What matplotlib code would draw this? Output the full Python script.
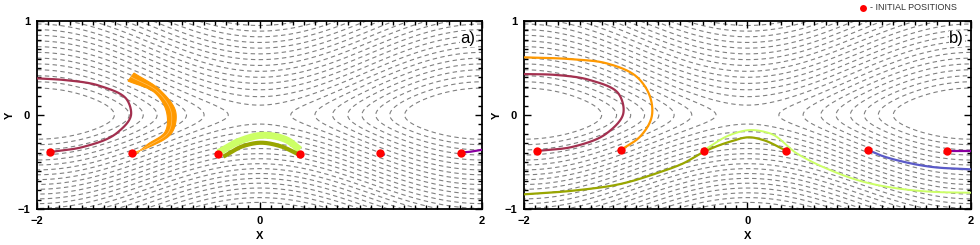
import numpy as np
import matplotlib
matplotlib.use("Agg")
import matplotlib.pyplot as plt
from matplotlib.ticker import MultipleLocator

plt.rcParams['font.family'] = ['Liberation Sans', 'DejaVu Sans']

# --- background stream function: psi = f(y) + cos(pi x / 2) ---
Y0 = 0.17          # width of the quadratic core of f(y)
SLOPE_UP = 3.3     # far-field slope of f for y > 0
SLOPE_DOWN = 3.9   # far-field slope of f for y < 0
levels = [-0.461, -0.266, -0.071, 0.124, 0.319, 0.514, 0.709, 0.904, 1.099,
          1.294, 1.489, 1.684, 1.879, 2.074, 2.269, 2.464, 2.659, 2.854,
          3.049, 3.244, 3.439, 3.634, 3.829, 4.024]

# --- initial positions ---
dots_a_x = [-1.883, -1.143, -0.376, 0.364, 1.083, 1.809]
dots_a_y = [-0.397, -0.40, -0.418, -0.418, -0.408, -0.40]
dots_b_x = [-1.886, -1.132, -0.387, 0.345, 1.075, 1.788]
dots_b_y = [-0.383, -0.372, -0.38, -0.38, -0.369, -0.383]

# --- panel a trajectories ---
crimson_a_x = [-1.883, -1.587, -1.281, -1.155, -1.19, -1.434, -1.73, -2.0]
crimson_a_y = [-0.394, -0.34, -0.19, 0.0, 0.16, 0.31, 0.37, 0.39]
# orange bundle: outer edge (top -> bottom) and inner edge (bottom -> top)
orange_outer_x = [-1.128, -0.894, -0.751, -0.789, -0.984, -1.137]
orange_outer_y = [0.447, 0.266, 0.02, -0.191, -0.337, -0.404]
orange_inner_x = [-1.119, -1.014, -0.849, -0.834, -0.939, -1.182]
orange_inner_y = [-0.426, -0.319, -0.178, 0.02, 0.234, 0.362]
lgreen_a_x = [-0.37, -0.175, 0.034, 0.244, 0.364]
lgreen_a_y = [-0.40, -0.275, -0.215, -0.265, -0.37]
olive_a_x = [-0.325, -0.146, 0.004, 0.184, 0.364]
olive_a_y = [-0.443, -0.33, -0.295, -0.33, -0.426]
blue_a_x = [1.083, 1.12]
blue_a_y = [-0.408, -0.42]
purple_a_x = [1.809, 1.9, 2.0]
purple_a_y = [-0.40, -0.39, -0.37]

# --- panel b trajectories ---
crimson_b_x = [-1.886, -1.559, -1.26, -1.111, -1.156, -1.409, -1.707, -2.0]
crimson_b_y = [-0.383, -0.337, -0.195, 0.018, 0.231, 0.372, 0.426, 0.436]
orange_b_x = [-1.132, -0.962, -0.857, -0.872, -0.991, -1.26, -1.559, -2.0]
orange_b_y = [-0.372, -0.231, -0.018, 0.195, 0.407, 0.55, 0.593, 0.614]
olive_b_x = [-2.0, -1.559, -1.111, -0.813, -0.574, -0.387, -0.157, 0.022, 0.141, 0.345]
olive_b_y = [-0.844, -0.805, -0.727, -0.62, -0.514, -0.39, -0.284, -0.237, -0.266, -0.38]
lgreen_b_x = [-0.387, -0.157, 0.022, 0.201, 0.44, 0.738, 1.036, 1.335, 1.633, 2.0]
lgreen_b_y = [-0.372, -0.213, -0.16, -0.195, -0.407, -0.585, -0.71, -0.78, -0.816, -0.827]
blue_b_x = [1.075, 1.185, 1.394, 1.633, 2.0]
blue_b_y = [-0.369, -0.426, -0.497, -0.55, -0.578]
purple_b_x = [1.788, 1.9, 2.0]
purple_b_y = [-0.383, -0.383, -0.383]

CRIMSON = '#a3304f'
ORANGE = '#ff9900'
LGREEN = '#ccff66'
OLIVE = '#99a600'
BLUE = '#5a5ac8'
PURPLE = '#8a00a0'


def smooth(xs, ys, n=200):
  # cubic hermite curve through the read-off points
  xs = np.asarray(xs, float)
  ys = np.asarray(ys, float)
  t = np.concatenate([[0], np.cumsum(np.hypot(np.diff(xs), np.diff(ys)))])
  tt = np.linspace(0, t[-1], n)
  if len(xs) < 4:
    return np.interp(tt, t, xs), np.interp(tt, t, ys)

  def cr(v):
    m = np.gradient(v, t)
    out = np.empty_like(tt)
    for i, s in enumerate(tt):
      k = min(np.searchsorted(t, s, side='right') - 1, len(t) - 2)
      h = t[k + 1] - t[k]
      u = (s - t[k]) / h
      h00 = 2*u**3 - 3*u**2 + 1
      h10 = u**3 - 2*u**2 + u
      h01 = -2*u**3 + 3*u**2
      h11 = u**3 - u**2
      out[i] = h00*v[k] + h10*h*m[k] + h01*v[k+1] + h11*h*m[k+1]
    return out
  return cr(xs), cr(ys)


def setup_axes(ax, tag):
  x = np.linspace(-2, 2, 400)
  y = np.linspace(-1, 1, 300)
  X, Y = np.meshgrid(x, y)
  slope = np.where(Y > 0, SLOPE_UP, SLOPE_DOWN)
  f = slope * Y0 * (np.sqrt(1 + (Y / Y0)**2) - 1)
  psi = f + np.cos(np.pi * X / 2)
  cs = ax.contour(X, Y, psi, levels=levels, colors='#808080', linewidths=0.8,
                  linestyles='dashed', zorder=1)
  cs.set_dashes([(0, (4, 3))])
  ax.set_xlim(-2, 2)
  ax.set_ylim(-1, 1)
  ax.set_xticks([-2, 0, 2])
  ax.set_yticks([-1, 0, 1])
  ax.xaxis.set_minor_locator(MultipleLocator(0.1))
  ax.yaxis.set_minor_locator(MultipleLocator(0.1))
  ax.tick_params(which='both', direction='in', top=True, right=True, width=1.0)
  ax.tick_params(which='major', length=5, labelsize=8, pad=5)
  ax.tick_params(which='minor', length=3)
  for lab in ax.get_xticklabels() + ax.get_yticklabels():
    lab.set_fontweight('bold')
  for sp in ax.spines.values():
    sp.set_linewidth(1.3)
  ax.set_xlabel('X', fontsize=8, fontweight='bold', labelpad=4)
  ax.set_ylabel('Y', fontsize=8, fontweight='bold', labelpad=2)
  ax.text(0.985, 0.905, tag, transform=ax.transAxes, ha='right', va='center',
          fontsize=12, zorder=6,
          bbox=dict(facecolor='white', edgecolor='none', pad=0.5))


fig = plt.figure(figsize=(9.8, 2.45), dpi=100)
ax_a = fig.add_axes([0.0378, 0.147, 0.454, 0.767])
ax_b = fig.add_axes([0.5347, 0.147, 0.456, 0.767])
setup_axes(ax_a, 'a)')
setup_axes(ax_b, 'b)')

# panel a
ax_a.plot(*smooth(crimson_a_x, crimson_a_y), color=CRIMSON, lw=1.6, zorder=3)
ox, oy = smooth(orange_outer_x, orange_outer_y)
ix, iy = smooth(orange_inner_x, orange_inner_y)
ax_a.fill(np.concatenate([ox, ix]), np.concatenate([oy, iy]), color=ORANGE,
          lw=0.8, ec=ORANGE, zorder=3)
mx, my = (ox + ix[::-1]) / 2, (oy + iy[::-1]) / 2
ax_a.plot(mx, my, color='#ffc060', lw=0.5, zorder=3)
ax_a.plot(*smooth(lgreen_a_x, lgreen_a_y), color=LGREEN, lw=5, zorder=3,
          solid_capstyle='butt')
ax_a.plot(*smooth(olive_a_x, olive_a_y), color=OLIVE, lw=3, zorder=4,
          solid_capstyle='butt')
ax_a.plot(blue_a_x, blue_a_y, color=BLUE, lw=1.5, zorder=4)
ax_a.plot(purple_a_x, purple_a_y, color=PURPLE, lw=1.6, zorder=4)
ax_a.plot(dots_a_x, dots_a_y, 'o', color='red', ms=6, mec='none', zorder=5)

# panel b
ax_b.plot(*smooth(crimson_b_x, crimson_b_y), color=CRIMSON, lw=1.6, zorder=3)
ax_b.plot(*smooth(orange_b_x, orange_b_y), color=ORANGE, lw=1.6, zorder=3)
ax_b.plot(*smooth(lgreen_b_x, lgreen_b_y), color=LGREEN, lw=1.4, zorder=3)
ax_b.plot(*smooth(olive_b_x, olive_b_y), color=OLIVE, lw=1.6, zorder=4)
ax_b.plot(*smooth(blue_b_x, blue_b_y), color=BLUE, lw=1.6, zorder=4)
ax_b.plot(purple_b_x, purple_b_y, color=PURPLE, lw=1.6, zorder=4)
ax_b.plot(dots_b_x, dots_b_y, 'o', color='red', ms=6, mec='none', zorder=5)

# legend for initial positions
fig.lines.append(plt.Line2D([863 / 980], [1 - 8 / 245], marker='o', color='red',
                            ms=5, mec='none', transform=fig.transFigure))
fig.text(870 / 980, 1 - 8 / 245, '- INITIAL POSITIONS', fontsize=6.5,
         color='#333333', va='center', ha='left')

fig.savefig('out.png', dpi=100)
